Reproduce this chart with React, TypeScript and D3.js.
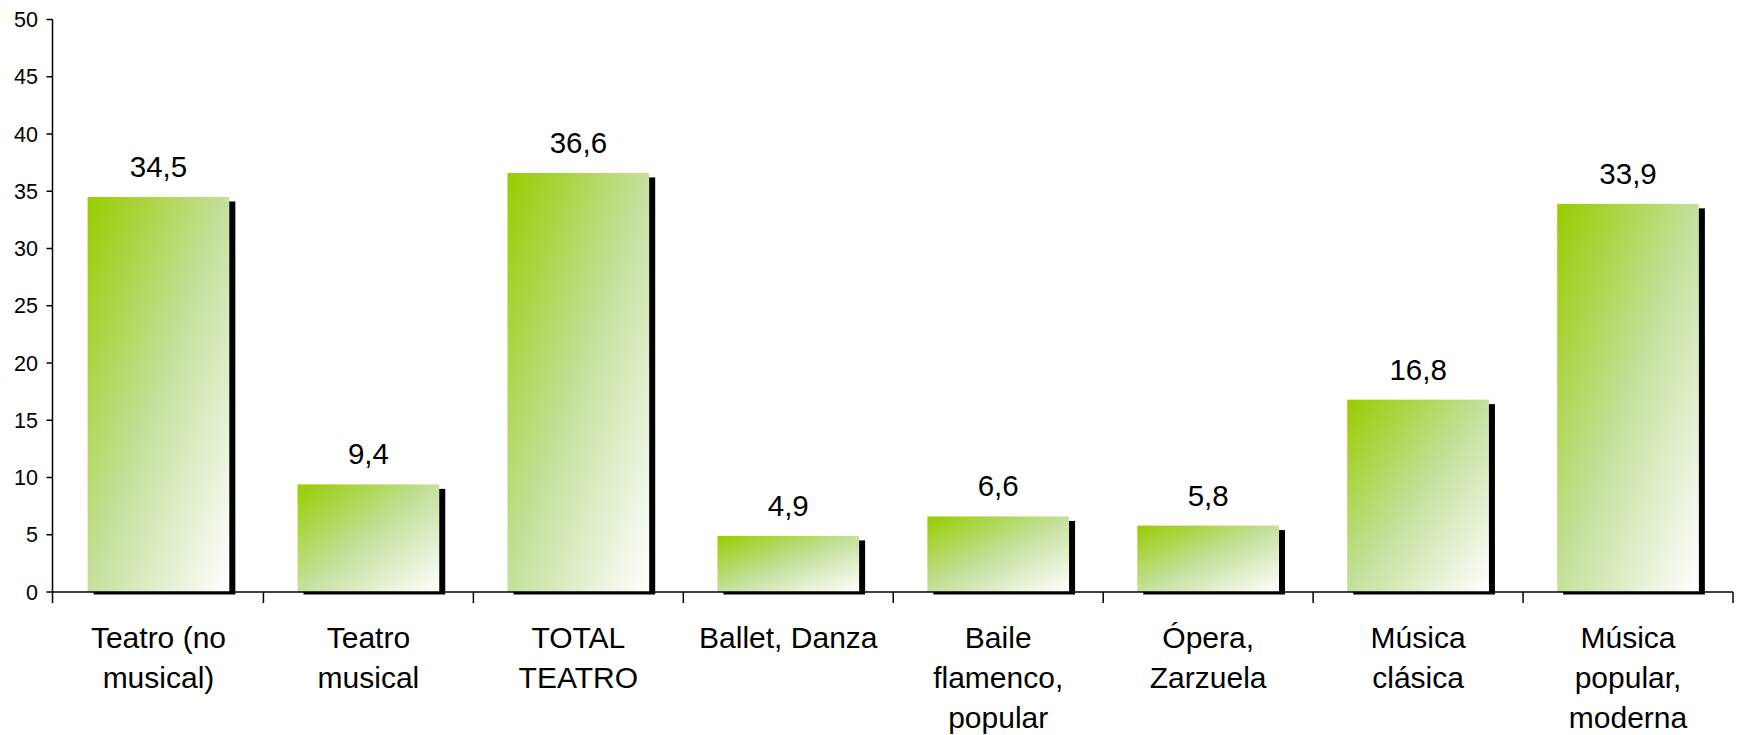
import * as d3 from 'd3';

const categories: string[][] = [
  ['Teatro (no', 'musical)'],
  ['Teatro', 'musical'],
  ['TOTAL', 'TEATRO'],
  ['Ballet, Danza'],
  ['Baile', 'flamenco,', 'popular'],
  ['Ópera,', 'Zarzuela'],
  ['Música', 'clásica'],
  ['Música', 'popular,', 'moderna'],
];
const values = [34.5, 9.4, 36.6, 4.9, 6.6, 5.8, 16.8, 33.9];
const yTicks = [0, 5, 10, 15, 20, 25, 30, 35, 40, 45, 50];

const W = 1737;
const H = 735;
const FONT = '"Liberation Sans", Arial, sans-serif';

export default function App() {
  const x0 = 53.5;
  const x1 = 1733;
  const yBase = 592;
  const yTop = 19.5;

  const x = d3.scaleBand<number>().domain(d3.range(categories.length)).range([x0, x1]);
  const y = d3.scaleLinear().domain([0, 50]).range([yBase, yTop]);
  const step = x.step();
  const barW = step * 0.675;
  const fmt = (v: number) => v.toFixed(1).replace('.', ',');

  return (
    <svg width={W} height={H} style={{ position: 'absolute', left: 0, top: 0, background: '#fff' }}>
      <defs>
        <linearGradient id="barGrad" x1="0" y1="0" x2="1" y2="1">
          <stop offset="0" stopColor="#99cc00" />
          <stop offset="0.5" stopColor="#c4e09c" />
          <stop offset="1" stopColor="#ffffff" />
        </linearGradient>
      </defs>

      {/* bars with shadow */}
      {values.map((v, i) => {
        const bx = (x(i) ?? 0) + (step - barW) / 2;
        const by = y(v);
        return (
          <g key={i}>
            <rect x={bx + 6} y={by + 4.5} width={barW} height={yBase + 2.5 - by - 4.5} fill="#000" />
            <rect x={bx} y={by} width={barW} height={yBase - by} fill="url(#barGrad)" />
            <text
              x={bx + barW / 2}
              y={by - 20}
              textAnchor="middle"
              fontFamily={FONT}
              fontSize={29.5}
              fill="#000"
            >
              {fmt(v)}
            </text>
          </g>
        );
      })}

      {/* y axis */}
      <line x1={52.5} x2={52.5} y1={yTop} y2={yBase} stroke="#000" strokeWidth={1.5} />
      {yTicks.map((t) => (
        <g key={t}>
          <line x1={46.5} x2={52.5} y1={y(t)} y2={y(t)} stroke="#000" strokeWidth={1.5} />
          <text x={38} y={y(t)} dy="0.36em" textAnchor="end" fontFamily={FONT} fontSize={21.5} fill="#000">
            {t}
          </text>
        </g>
      ))}

      {/* x axis */}
      <line x1={52.5} x2={x1} y1={yBase} y2={yBase} stroke="#000" strokeWidth={1.5} />
      {d3.range(categories.length + 1).map((i) => {
        const tx = i === 0 ? 52.5 : x0 + i * step;
        return <line key={i} x1={tx} x2={tx} y1={yBase} y2={yBase + 11} stroke="#000" strokeWidth={1.5} />;
      })}
      {categories.map((lines, i) => (
        <text
          key={i}
          x={(x(i) ?? 0) + step / 2}
          y={648}
          textAnchor="middle"
          fontFamily={FONT}
          fontSize={30}
          fill="#000"
        >
          {lines.map((l, j) => (
            <tspan key={j} x={(x(i) ?? 0) + step / 2} dy={j === 0 ? 0 : 40}>
              {l}
            </tspan>
          ))}
        </text>
      ))}
    </svg>
  );
}
